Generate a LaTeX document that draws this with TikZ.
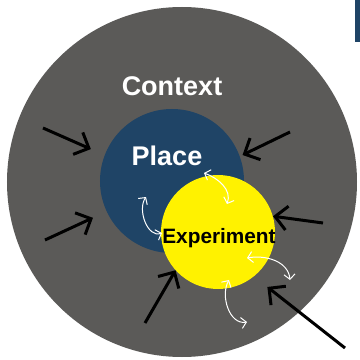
\documentclass[tikz,border=0pt]{standalone}
\usepackage{fontspec}
\setmainfont{Liberation Sans}
\definecolor{CtxGray}{RGB}{91, 90, 88}
\definecolor{PlaceBlue}{RGB}{31, 68, 102}
\definecolor{ExpYellow}{RGB}{255, 242, 0}
\usetikzlibrary{arrows.meta, positioning, calc}
\tikzset{
  ring/.style={circle, fill=#1, inner sep=0pt, draw=none},
  lbl/.style={font=\bfseries\fontsize{#1}{#1}\selectfont, anchor=base, inner sep=0pt},
  push/.style={-{Straight Barb[length=12bp, width=24bp]}, line width=3bp, color=black, shorten >=#1},
  swap/.style={{Straight Barb[length=5bp, width=11bp]}-{Straight Barb[length=5bp, width=11bp]},
               line width=1bp, color=white},
}

\begin{document}
\begin{tikzpicture}[x=1bp, y=1bp]
      \useasboundingbox (0,0) rectangle (360,360);
      \fill[PlaceBlue] (355,318) rectangle (360,360);

      \node[ring=CtxGray, minimum size=350bp] (ctx) at (182,178) {};
      \node[ring=PlaceBlue, minimum size=144bp] (place) at (172,179) {};
      \node[ring=ExpYellow, minimum size=114bp] (exp) at (218,128) {};

      \node[lbl=27bp, text=white] (ctxtxt) at (172,265) {Context};
      \node[lbl=27bp, text=white] (placetxt) at (167,195) {Place};
      \node[lbl=20.8bp, text=black] (exptxt) at (219,117) {Experiment};

      \coordinate (t1) at (43,232);
      \coordinate (t2) at (45,120);
      \coordinate (t3) at (290,228);
      \coordinate (t4) at (323,137);
      \coordinate (t5) at (145,37);
      \coordinate (t6) at (345,12);
      \draw[push=15bp] (t1) -- (place.159);
      \draw[push=15bp] (t2) -- (place.205);
      \draw[push=3bp]  (t3) -- (place.20);
      \draw[push=0bp]  (t4) -- (exp.16);
      \draw[push=0bp]  (t5) -- (exp.222);
      \draw[push=17bp] (t6) -- (exp.-51);

      \coordinate (a1) at (204,187);
      \coordinate (a2) at (227,156);
      \coordinate (b1) at (146,163);
      \coordinate (b2) at (162,127);
      \coordinate (c1) at (247,102);
      \coordinate (c2) at (290,80);
      \coordinate (d1) at (229,80);
      \coordinate (d2) at (247,38);
      \draw[swap] (a1) to[out=-20, in=70] (a2);
      \draw[swap] (b1) to[out=235, in=200] (b2);
      \draw[swap] (c1) to[out=10, in=95] (c2);
      \draw[swap] (d1) to[out=240, in=190] (d2);
\end{tikzpicture}
\end{document}
